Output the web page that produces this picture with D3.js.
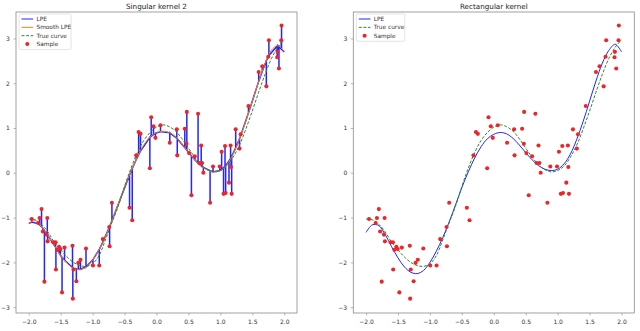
<!DOCTYPE html>
<html>
<head>
<meta charset="utf-8">
<script src="https://cdn.jsdelivr.net/npm/d3@7"></script>
<style>
  html, body { margin: 0; padding: 0; background: #fff; }
  svg { display: block; font-family: "DejaVu Sans", sans-serif; }
</style>
</head>
<body>
<svg id="chart" width="640" height="331"></svg>
<script>
// samples shared by both panels
const sampleX = [
  -1.953, -1.85, -1.83, -1.80, -1.78, -1.755, -1.72, -1.71, -1.705, -1.615,
  -1.58, -1.575, -1.557, -1.526, -1.505, -1.479, -1.44, -1.315, -1.31, -1.30,
  -1.255, -1.224, -1.19, -1.104, -0.995, -0.896, -0.84, -0.74, -0.734, -0.698,
  -0.422, -0.38, -0.318, -0.28, -0.25, -0.104, -0.083, -0.047, -0.016, 0.0625,
  0.208, 0.318, 0.325, 0.443, 0.47, 0.475, 0.51, 0.547, 0.60, 0.651,
  0.67, 0.70, 0.714, 0.734, 0.839, 0.885, 0.99, 1.02, 1.05, 1.073,
  1.083, 1.135, 1.16, 1.167, 1.177, 1.24, 1.30, 1.318, 1.44, 1.60,
  1.656, 1.72, 1.75, 1.76, 1.89, 1.896, 1.917, 1.953, 1.958,
];
const sampleY = [
  -1.03, -1.12, -1.01, -0.81, -1.31, -2.43, -1.38, -1.01, -1.53, -1.55,
  -1.55, -2.16, -1.72, -1.65, -1.70, -2.67, -1.67, -1.63, -2.81, -2.16,
  -2.42, -2.01, -1.94, -1.69, -2.07, -2.07, -1.48, -1.21, -1.64, -0.67,
  -0.78, -1.06, 0.39, 0.91, 0.87, 0.10, 1.24, 1.04, 0.78, 1.06,
  0.67, 0.97, 0.39, 0.985, 0.65, 1.36, 0.44, -0.50, 0.37, 1.32,
  0.22, 0.61, 0.22, 0.0, -0.67, 0.14, 0.14, 0.47, -0.47, 0.60,
  -0.45, -0.22, 0.61, 0.13, -0.47, 0.97, 0.54, 0.86, 1.49, 2.25,
  2.38, 1.93, 2.59, 2.96, 2.58, 2.70, 2.33, 2.96, 3.29,
];

// curve grid
const gridX = [
  -2.0, -1.9, -1.8, -1.7, -1.6, -1.5, -1.4, -1.3, -1.2, -1.1,
  -1.0, -0.9, -0.8, -0.7, -0.6, -0.5, -0.4, -0.3, -0.2, -0.1,
  0.0, 0.1, 0.2, 0.3, 0.4, 0.5, 0.6, 0.7, 0.8, 0.9,
  1.0, 1.1, 1.2, 1.3, 1.4, 1.5, 1.6, 1.7, 1.8, 1.9, 2.0,
];
const trueCurve = [
  -1.03, -1.05, -1.15, -1.32, -1.55, -1.72, -1.88, -2.00, -2.07, -2.09,
  -2.03, -1.85, -1.50, -1.12, -0.75, -0.30, 0.10, 0.45, 0.72, 0.90,
  1.02, 1.07, 1.03, 0.93, 0.76, 0.55, 0.35, 0.18, 0.07, 0.02,
  0.05, 0.15, 0.35, 0.62, 0.98, 1.38, 1.80, 2.20, 2.55, 2.80, 2.97,
];
const smoothLpe = [
  -1.13, -1.07, -1.20, -1.40, -1.62, -1.85, -2.02, -2.13, -2.16, -2.10,
  -1.95, -1.72, -1.43, -1.08, -0.70, -0.32, 0.03, 0.35, 0.62, 0.80,
  0.90, 0.93, 0.90, 0.80, 0.64, 0.46, 0.29, 0.15, 0.06, 0.02,
  0.05, 0.18, 0.42, 0.76, 1.16, 1.60, 2.04, 2.44, 2.74, 2.84, 2.70,
];
const rectLpe = [
  -1.33, -1.16, -1.18, -1.38, -1.65, -1.90, -2.10, -2.22, -2.25, -2.18,
  -2.00, -1.75, -1.45, -1.10, -0.72, -0.33, 0.02, 0.33, 0.58, 0.76,
  0.86, 0.90, 0.87, 0.77, 0.62, 0.45, 0.29, 0.16, 0.08, 0.05,
  0.08, 0.20, 0.42, 0.75, 1.15, 1.60, 2.05, 2.45, 2.73, 2.87, 2.70,
];

const xTicks = [-2.0, -1.5, -1.0, -0.5, 0.0, 0.5, 1.0, 1.5, 2.0];
const yTicks = [-3, -2, -1, 0, 1, 2, 3];

const COLORS = {
  lpe: "#2424ff",
  smooth: "#ff7f0e",
  truth: "#2a8a2a",
  sample: "#f02424",
  spine: "#8a8a8a",
  text: "#333",
};

const svg = d3.select("#chart");
const samples = sampleX.map((x, i) => ({ x, y: sampleY[i] }));
const zipCurve = (ys) => gridX.map((x, i) => [x, ys[i]]);

function drawPanel({ left, right, title, singular }) {
  const top = 12;
  const bottom = 313;
  const x = d3.scaleLinear().domain([-2.2, 2.2]).range([left, right]);
  const y = d3.scaleLinear().domain([-3.13, 3.59]).range([bottom, top]);
  const g = svg.append("g");

  const clipId = `clip-${singular ? "s" : "r"}`;
  g.append("clipPath").attr("id", clipId)
    .append("rect").attr("x", left).attr("y", top).attr("width", right - left).attr("height", bottom - top);

  const plot = g.append("g").attr("clip-path", `url(#${clipId})`);
  const line = d3.line().x((d) => x(d[0])).y((d) => y(d[1])).curve(d3.curveCatmullRom);

  if (singular) {
    // singular kernel: estimate hits every sample, spikes off the smooth curve
    const base = d3.scaleLinear().domain(gridX).range(smoothLpe);
    const sorted = [...samples].sort((a, b) => a.x - b.x);
    const spikes = [[gridX[0], smoothLpe[0]]];
    sorted.forEach((s) => {
      spikes.push([s.x, base(s.x)], [s.x, s.y], [s.x, base(s.x)]);
    });
    spikes.push([gridX[gridX.length - 1], smoothLpe[smoothLpe.length - 1]]);
    plot.append("path")
      .datum(spikes)
      .attr("d", d3.line().x((d) => x(d[0])).y((d) => y(d[1])))
      .attr("fill", "none")
      .attr("stroke", COLORS.lpe)
      .attr("stroke-width", 1.5);
    plot.append("path")
      .datum(zipCurve(smoothLpe))
      .attr("d", line)
      .attr("fill", "none")
      .attr("stroke", COLORS.smooth)
      .attr("stroke-width", 1);
  } else {
    plot.append("path")
      .datum(zipCurve(rectLpe))
      .attr("d", line)
      .attr("fill", "none")
      .attr("stroke", COLORS.lpe)
      .attr("stroke-width", 1);
  }

  plot.append("path")
    .datum(zipCurve(trueCurve))
    .attr("d", line)
    .attr("fill", "none")
    .attr("stroke", COLORS.truth)
    .attr("stroke-width", 1)
    .attr("stroke-dasharray", "3,1.6");

  plot.append("g")
    .selectAll("circle")
    .data(samples)
    .join("circle")
    .attr("cx", (d) => x(d.x))
    .attr("cy", (d) => y(d.y))
    .attr("r", 2.05)
    .attr("fill", COLORS.sample);

  // axes
  const xAxis = g.append("g")
    .attr("transform", `translate(0,${bottom})`)
    .call(d3.axisBottom(x).tickValues(xTicks).tickSize(2.5).tickFormat(d3.format(".1f")));
  const yAxis = g.append("g")
    .attr("transform", `translate(${left},0)`)
    .call(d3.axisLeft(y).tickValues(yTicks).tickSize(2.5).tickFormat(d3.format("d")));
  [xAxis, yAxis].forEach((axis) => {
    axis.select(".domain").remove();
    axis.selectAll(".tick line").attr("stroke", COLORS.spine).attr("stroke-width", 0.6);
    axis.selectAll(".tick text")
      .attr("fill", COLORS.text)
      .attr("font-size", 6)
      .attr("font-family", "DejaVu Sans, sans-serif");
  });
  xAxis.selectAll(".tick text").attr("dy", "0.9em");
  yAxis.selectAll(".tick text").attr("dx", "-0.1em");

  g.append("rect")
    .attr("x", left).attr("y", top)
    .attr("width", right - left).attr("height", bottom - top)
    .attr("fill", "none")
    .attr("stroke", COLORS.spine)
    .attr("stroke-width", 0.8);

  g.append("text")
    .attr("x", (left + right) / 2)
    .attr("y", 8.5)
    .attr("text-anchor", "middle")
    .attr("font-size", 7.2)
    .attr("fill", "#222")
    .text(title);

  // legend
  const items = singular
    ? [
        { label: "LPE", kind: "line", color: COLORS.lpe },
        { label: "Smooth LPE", kind: "line", color: COLORS.smooth },
        { label: "True curve", kind: "dash", color: COLORS.truth },
        { label: "Sample", kind: "dot", color: COLORS.sample },
      ]
    : [
        { label: "LPE", kind: "line", color: COLORS.lpe },
        { label: "True curve", kind: "dash", color: COLORS.truth },
        { label: "Sample", kind: "dot", color: COLORS.sample },
      ];
  const legendW = singular ? 52 : 48.5;
  const legend = g.append("g").attr("transform", `translate(${left + 3},${top + 2})`);
  legend.append("rect")
    .attr("width", legendW)
    .attr("height", items.length * 8.35 + 2.2)
    .attr("rx", 1.5)
    .attr("fill", "#fff")
    .attr("fill-opacity", 0.8)
    .attr("stroke", "#d0d0d0")
    .attr("stroke-width", 0.6);
  items.forEach((item, i) => {
    const row = legend.append("g").attr("transform", `translate(0,${5 + i * 8.35})`);
    if (item.kind === "dot") {
      row.append("circle").attr("cx", 8.3).attr("cy", 0).attr("r", 2.05).attr("fill", item.color);
    } else {
      row.append("line")
        .attr("x1", 2.5).attr("x2", 14.2)
        .attr("stroke", item.color)
        .attr("stroke-width", 1)
        .attr("stroke-dasharray", item.kind === "dash" ? "3,1.6" : null);
    }
    row.append("text")
      .attr("x", 17.5)
      .attr("dy", "0.35em")
      .attr("font-size", 5.8)
      .attr("fill", COLORS.text)
      .text(item.label);
  });
}

drawPanel({ left: 16, right: 297, title: "Singular kernel 2", singular: true });
drawPanel({ left: 353.3, right: 634.3, title: "Rectangular kernel", singular: false });
</script>
</body>
</html>
